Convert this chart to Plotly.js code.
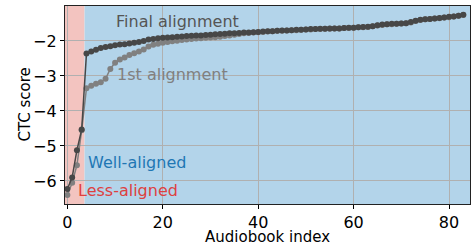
<!DOCTYPE html>
<html>
<head>
<meta charset="utf-8">
<script src="https://cdn.plot.ly/plotly-3.0.1.min.js"></script>
<style>html,body{margin:0;padding:0;background:#fff;}#chart{width:471px;height:245px;}</style>
</head>
<body>
<div id="chart"></div>
<script>
const finalScores = [-6.23,-5.90,-5.12,-4.53,-2.36,-2.30,-2.25,-2.20,-2.17,-2.15,
  -2.12,-2.10,-2.09,-2.07,-2.05,-2.03,-2.00,-1.96,-1.94,-1.92,
  -1.91,-1.90,-1.89,-1.88,-1.87,-1.86,-1.85,-1.84,-1.84,-1.83,
  -1.82,-1.81,-1.80,-1.79,-1.78,-1.78,-1.77,-1.76,-1.76,-1.75,
  -1.74,-1.73,-1.72,-1.72,-1.71,-1.70,-1.70,-1.69,-1.68,-1.68,
  -1.67,-1.66,-1.66,-1.65,-1.65,-1.64,-1.64,-1.64,-1.63,-1.62,
  -1.62,-1.61,-1.60,-1.59,-1.58,-1.55,-1.53,-1.52,-1.51,-1.51,
  -1.50,-1.49,-1.46,-1.42,-1.39,-1.38,-1.37,-1.36,-1.34,-1.33,
  -1.31,-1.30,-1.28,-1.25];
const firstScores = [-6.40,-6.05,-5.55,-4.55,-3.35,-3.28,-3.22,-3.18,-3.08,-2.80,
  -2.62,-2.53,-2.47,-2.40,-2.35,-2.30,-2.24,-2.16,-2.11,-2.08,
  -2.05,-2.03,-2.01,-1.99,-1.97,-1.96,-1.94,-1.93,-1.92,-1.91,
  -1.90,-1.89,-1.88,-1.86,-1.84,-1.82,-1.80,-1.78,-1.77,-1.76,
  -1.75,-1.74,-1.73,-1.72,-1.71,-1.71,-1.70,-1.69,-1.69,-1.68,
  -1.67,-1.67,-1.66,-1.66,-1.65,-1.65,-1.64,-1.64,-1.63,-1.63,
  -1.62,-1.61,-1.61,-1.60,-1.58,-1.56,-1.54,-1.52,-1.52,-1.51,
  -1.50,-1.49,-1.47,-1.43,-1.40,-1.38,-1.37,-1.36,-1.35,-1.33,
  -1.32,-1.30,-1.28,-1.26];
const indices = finalScores.map((_, i) => i);
const xTicks = [0, 20, 40, 60, 80];
const yTicks = [-6, -5, -4, -3, -2];
const lessBoundary = 3.6;

const font = 'DejaVu Sans, sans-serif';
const traces = [
  {x: indices, y: firstScores, mode: 'lines+markers', type: 'scatter',
   line: {color: '#808080', width: 1.5}, marker: {color: '#808080', size: 6}},
  {x: indices, y: finalScores, mode: 'lines+markers', type: 'scatter',
   line: {color: '#474747', width: 1.5}, marker: {color: '#474747', size: 6}}
];
const layout = {
  width: 471, height: 245,
  margin: {l: 65, r: 1, t: 6, b: 41},
  paper_bgcolor: '#ffffff', plot_bgcolor: '#ffffff',
  showlegend: false,
  font: {family: font, size: 16, color: '#000'},
  xaxis: {range: [-0.5, 84.4], tickvals: xTicks, ticks: 'outside', ticklen: 4, tickcolor: '#000',
    tickfont: {size: 16},
    showline: true, mirror: true, linecolor: '#222', linewidth: 1.2,
    showgrid: true, gridcolor: '#b0b0b0', gridwidth: 1, zeroline: false},
  yaxis: {range: [-6.66, -1.0], tickvals: yTicks, ticktext: yTicks.map(v => '\u2212' + Math.abs(v)),
    ticks: 'outside', ticklen: 4, tickcolor: '#000', tickfont: {size: 16},
    showline: true, mirror: true, linecolor: '#222', linewidth: 1.2,
    showgrid: true, gridcolor: '#b0b0b0', gridwidth: 1, zeroline: false},
  shapes: [
    {type: 'rect', layer: 'below', xref: 'x', yref: 'paper', x0: -0.5, x1: lessBoundary, y0: 0, y1: 1,
     fillcolor: '#f3c4c0', line: {width: 0}},
    {type: 'rect', layer: 'below', xref: 'x', yref: 'paper', x0: lessBoundary, x1: 84.4, y0: 0, y1: 1,
     fillcolor: '#b3d4ea', line: {width: 0}}
  ],
  annotations: [
    {x: 0.5, y: -0.166, xref: 'paper', yref: 'paper', text: 'Audiobook index', showarrow: false,
     xanchor: 'center', yanchor: 'middle', font: {size: 15, color: '#000'}},
    {x: -0.1, y: 0.5, xref: 'paper', yref: 'paper', text: 'CTC score', showarrow: false, textangle: -90,
     xanchor: 'center', yanchor: 'middle', font: {size: 15, color: '#000'}},
    {x: 9.8, y: -1.45, xref: 'x', yref: 'y', text: 'Final alignment', showarrow: false,
     xanchor: 'left', yanchor: 'middle', font: {size: 16, color: '#555555'}},
    {x: 10.0, y: -2.97, xref: 'x', yref: 'y', text: '1st alignment', showarrow: false,
     xanchor: 'left', yanchor: 'middle', font: {size: 16, color: '#808080'}},
    {x: 3.9, y: -5.47, xref: 'x', yref: 'y', text: 'Well-aligned', showarrow: false,
     xanchor: 'left', yanchor: 'middle', font: {size: 16, color: '#1f77b4'}},
    {x: 1.8, y: -6.28, xref: 'x', yref: 'y', text: 'Less-aligned', showarrow: false,
     xanchor: 'left', yanchor: 'middle', font: {size: 16, color: '#de4040'}}
  ]
};
Plotly.newPlot('chart', traces, layout, {displayModeBar: false, staticPlot: true});
</script>
</body>
</html>
